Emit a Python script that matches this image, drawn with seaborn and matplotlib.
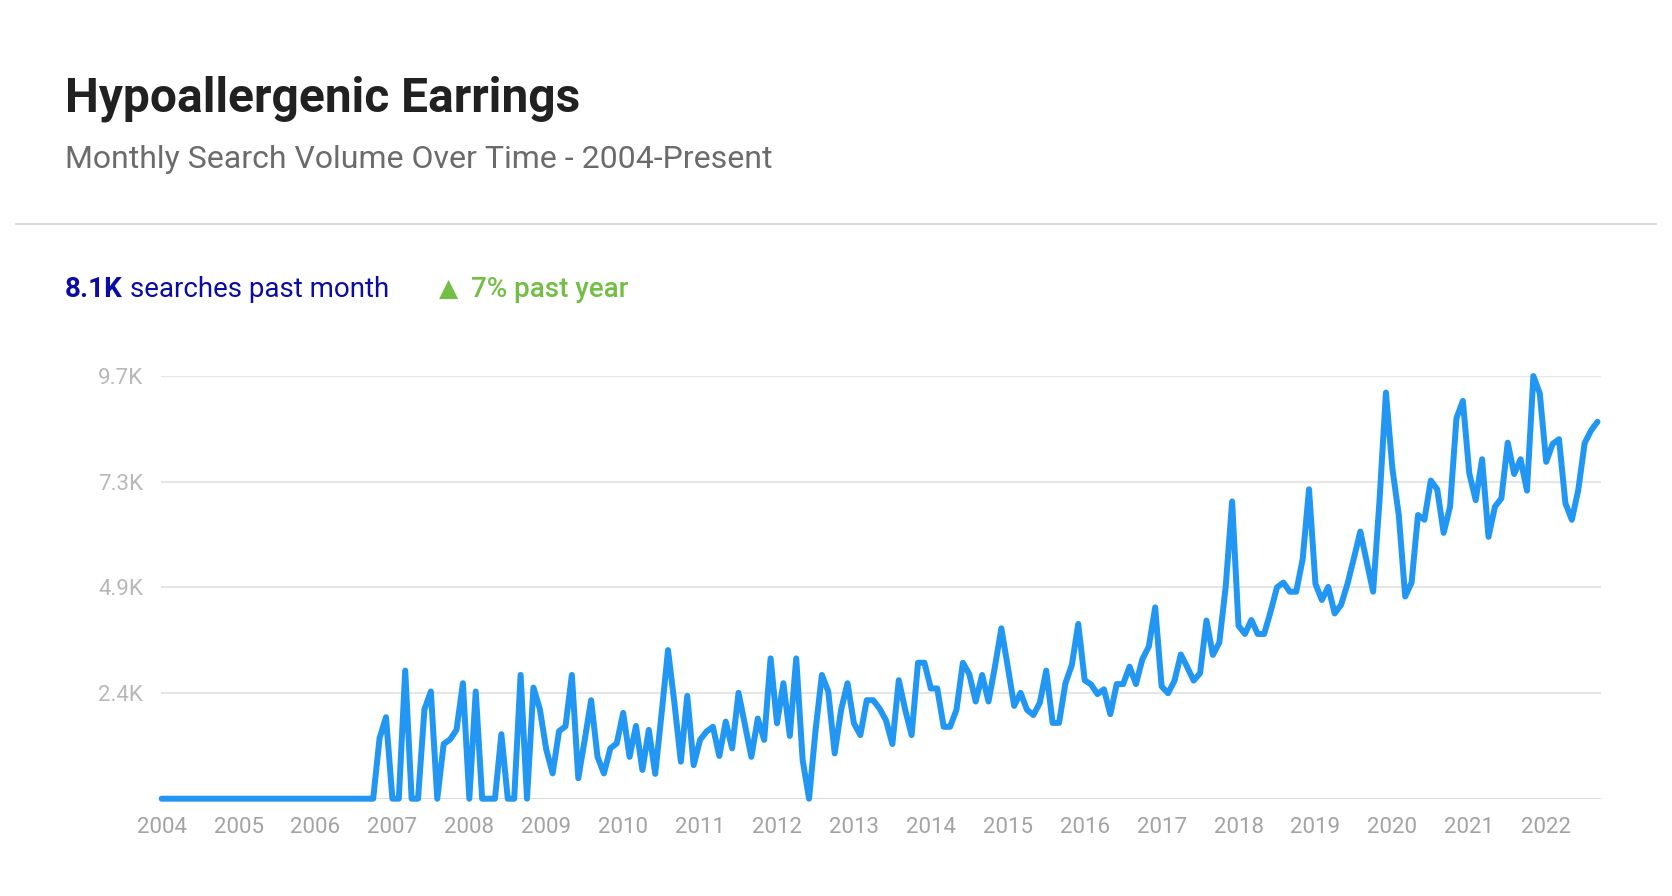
import numpy as np
import pandas as pd
import seaborn as sns
import matplotlib.pyplot as plt
from matplotlib.lines import Line2D

# ---- data: monthly search volume, Jan 2004 .. Sep 2022 ----
v2004 = [0, 0, 0, 0, 0, 0, 0, 0, 0, 0, 0, 0]
v2005 = [0, 0, 0, 0, 0, 0, 0, 0, 0, 0, 0, 0]
v2006 = [0, 0, 0, 0, 0, 0, 0, 0, 0, 0, 1390, 1870]
v2007 = [0, 0, 2940, 0, 0, 2050, 2460, 0, 1255, 1360, 1580, 2650]
v2008 = [0, 2460, 0, 0, 0, 1480, 0, 0, 2840, 0, 2550, 2060]
v2009 = [1130, 580, 1550, 1660, 2840, 470, 1350, 2260, 960, 580, 1155, 1270]
v2010 = [1970, 960, 1670, 660, 1580, 570, 1960, 3410, 2190, 850, 2360, 770]
v2011 = [1350, 1540, 1650, 980, 1770, 1155, 2430, 1690, 960, 1840, 1350, 3220]
v2012 = [1730, 2650, 1440, 3220, 890, 0, 1550, 2840, 2460, 1040, 2040, 2650]
v2013 = [1730, 1460, 2260, 2260, 2070, 1800, 1255, 2720, 2040, 1460, 3120, 3120]
v2014 = [2530, 2530, 1650, 1650, 2040, 3120, 2860, 2230, 2840, 2230, 3030, 3910]
v2015 = [3030, 2130, 2430, 2040, 1920, 2200, 2940, 1740, 1740, 2650, 3070, 4010]
v2016 = [2720, 2620, 2400, 2510, 1940, 2630, 2630, 3030, 2630, 3200, 3490, 4390]
v2017 = [2580, 2420, 2700, 3310, 3020, 2710, 2880, 4090, 3300, 3580, 4860, 6820]
v2018 = [3970, 3780, 4100, 3780, 3780, 4290, 4850, 4960, 4750, 4750, 5490, 7100]
v2019 = [4930, 4560, 4860, 4250, 4450, 4930, 5520, 6130, 5440, 4750, 6850, 9320]
v2020 = [7580, 6510, 4640, 4960, 6510, 6400, 7300, 7100, 6100, 6700, 8730, 9130]
v2021 = [7470, 6850, 7790, 6010, 6700, 6890, 8170, 7450, 7790, 7070, 9700, 9300]
v2022 = [7730, 8140, 8250, 6780, 6400, 7080, 8160, 8450, 8650]

year_labels = ["2004", "2005", "2006", "2007", "2008", "2009", "2010", "2011",
               "2012", "2013", "2014", "2015", "2016", "2017", "2018", "2019",
               "2020", "2021", "2022"]
y_ticks = [2425, 4850, 7275, 9700]
y_tick_labels = ["2.4K", "4.9K", "7.3K", "9.7K"]

title = "Hypoallergenic Earrings"
subtitle = "Monthly Search Volume Over Time - 2004-Present"
stat_value = "8.1K"
stat_text = "searches past month"
trend_text = "7% past year"

values = (v2004 + v2005 + v2006 + v2007 + v2008 + v2009 + v2010 + v2011 + v2012 +
          v2013 + v2014 + v2015 + v2016 + v2017 + v2018 + v2019 + v2020 + v2021 + v2022)
df = pd.DataFrame({"month": np.arange(len(values)), "searches": values})

# ---- style ----
sns.set_theme(style="white")
plt.rcParams["font.family"] = ["Roboto", "DejaVu Sans"]

W, H = 1672, 896
fig = plt.figure(figsize=(W / 100, H / 100), dpi=100)
fig.patch.set_facecolor("white")

def fx(px):
    return px / W

def fy(py):
    return 1 - py / H

ax_left, ax_right = 161, 1601
ax_bottom, ax_top = 798.7, 376
ax = fig.add_axes([fx(ax_left), fy(ax_bottom), (ax_right - ax_left) / W, (ax_bottom - ax_top) / H])

ax.set_axisbelow(True)
for yv in y_ticks:
    ax.axhline(yv, color="#e6e6e6", lw=1.6, zorder=0)
ax.axhline(0, color="#cfcfcf", lw=1.8, zorder=0)

sns.lineplot(data=df, x="month", y="searches", ax=ax, color="#2196F3",
             linewidth=4.3, solid_joinstyle="round", solid_capstyle="round",
             clip_on=False, zorder=3)

ax.set_xlim(-0.1, 224.55)
ax.set_ylim(0, 9700)
ax.set_xticks([12 * i for i in range(len(year_labels))])
ax.set_xticklabels(year_labels)
ax.set_yticks(y_ticks)
ax.set_yticklabels(y_tick_labels)
ax.tick_params(axis="x", length=0, pad=13, labelsize=16, labelcolor="#a3a3a3")
ax.tick_params(axis="y", length=0, pad=13, labelsize=16, labelcolor="#b8b8b8")
ax.set_xlabel("")
ax.set_ylabel("")
ax.grid(False)
for s in ax.spines.values():
    s.set_visible(False)

# ---- header texts ----
fig.text(fx(65), fy(112), title, fontsize=34.5, fontweight="bold", color="#212121", va="baseline")
fig.text(fx(65), fy(168), subtitle, fontsize=23, color="#6b6b6b", va="baseline")
fig.add_artist(Line2D([fx(16), fx(1656)], [fy(224), fy(224)], color="#dcdcdc", lw=1.5))

fig.text(fx(65), fy(297), stat_value, fontsize=20, fontweight="bold", color="#0b0ba8", va="baseline")
fig.text(fx(130), fy(297), stat_text, fontsize=20, color="#0b0ba8", va="baseline")
fig.text(fx(439), fy(296), "\u25B2", fontsize=18, color="#72bf44", va="baseline",
         family=["DejaVu Sans"])
fig.text(fx(471), fy(297), trend_text, fontsize=20, fontweight="medium", color="#72bf44", va="baseline")

fig.savefig("out.png", dpi=100, facecolor="white")
